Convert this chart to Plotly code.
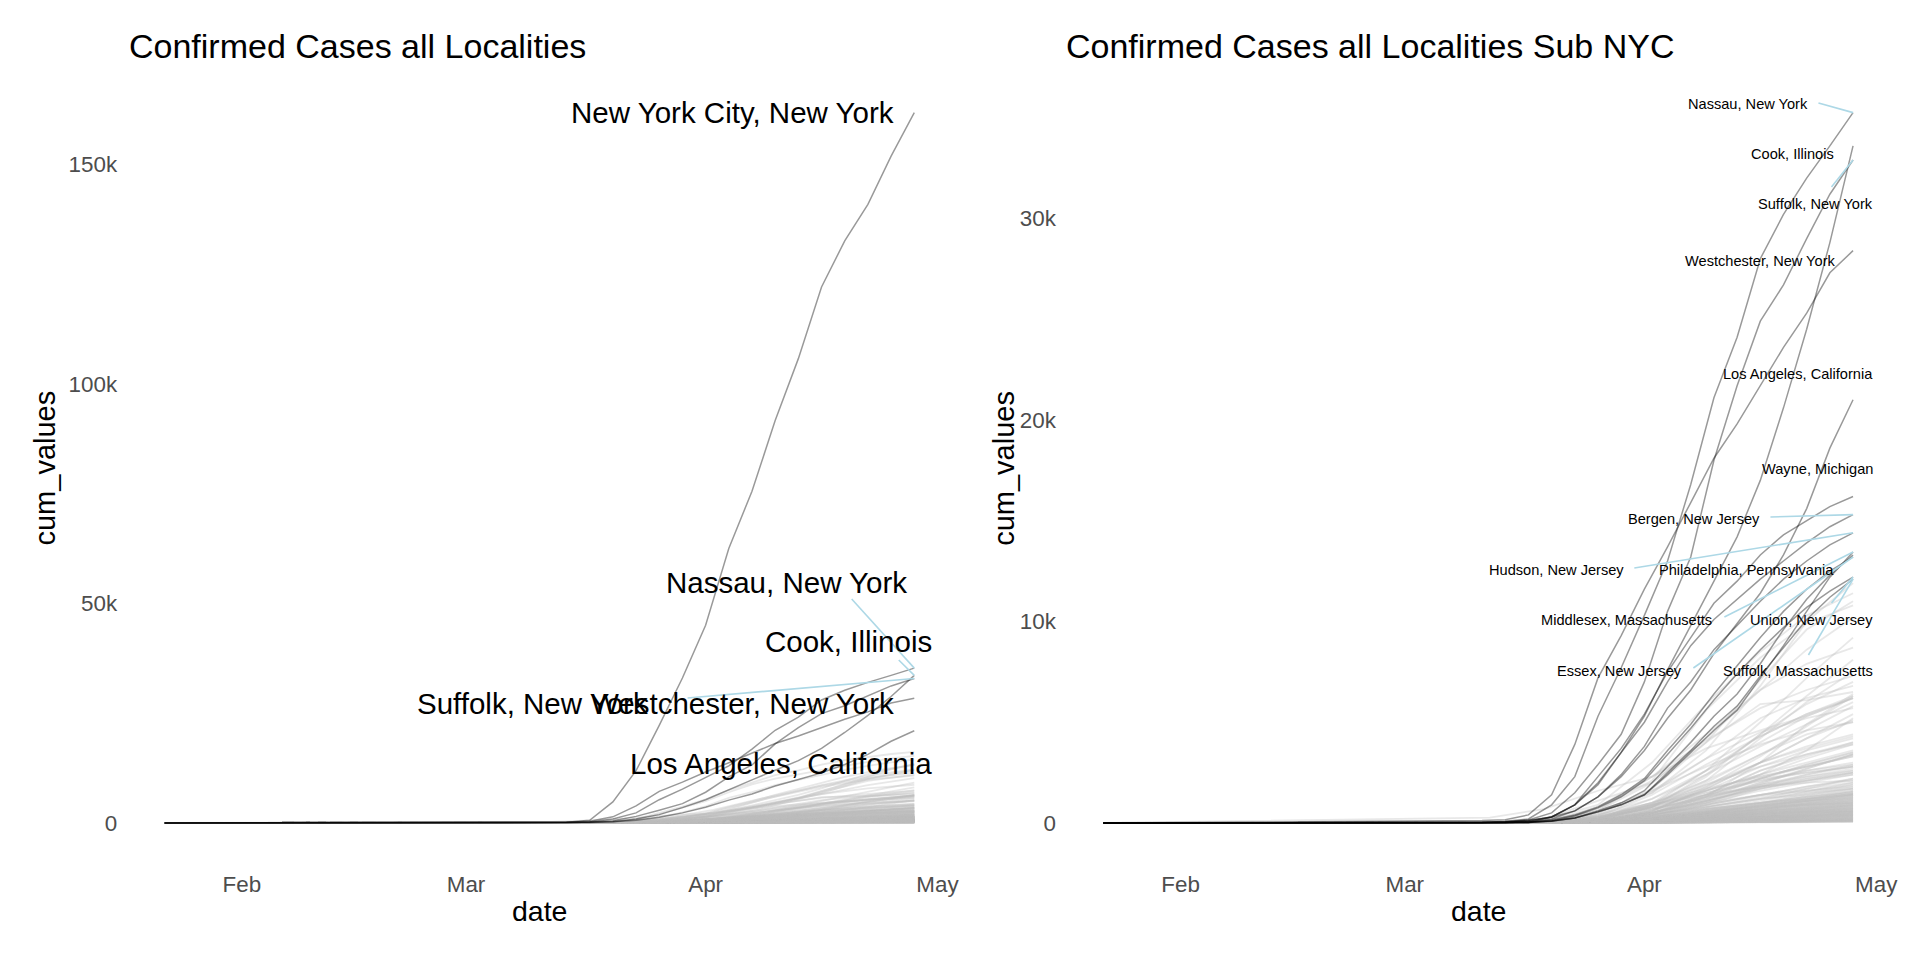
import plotly.graph_objects as go
import pandas as pd

# ---------------- data (values in thousands of cumulative cases) ----------------
start_date = "2020-01-22"
hl_dates = ["2020-03-08", "2020-03-11", "2020-03-14", "2020-03-17", "2020-03-20", "2020-03-23",
            "2020-03-26", "2020-03-29", "2020-04-01", "2020-04-04", "2020-04-07", "2020-04-10",
            "2020-04-13", "2020-04-16", "2020-04-19", "2020-04-22", "2020-04-25", "2020-04-28"]

new_york_city_ny = [0.0, 0.05, 0.15, 0.6, 4.8, 11.9, 22.2, 33.0, 45.0, 62.5, 75.5, 91.6, 105.7, 122.0, 132.5, 140.8, 151.8, 161.7]
nassau_ny = [0.0, 0.02, 0.08, 0.2, 0.9, 2.3, 5.3, 7.7, 10.3, 13.0, 16.8, 21.1, 24.1, 28.0, 30.2, 32.0, 33.6, 35.25]
cook_il = [0.0, 0.005, 0.03, 0.1, 0.3, 0.9, 1.9, 3.5, 5.3, 7.6, 9.8, 12.0, 14.2, 17.0, 20.6, 24.5, 28.8, 33.6]
suffolk_ny = [0.0, 0.01, 0.04, 0.15, 0.5, 1.5, 2.9, 4.4, 7.0, 10.5, 13.2, 18.0, 21.7, 24.9, 26.7, 29.0, 31.2, 32.9]
westchester_ny = [0.08, 0.12, 0.16, 0.4, 1.4, 3.9, 7.2, 9.3, 11.6, 13.7, 15.9, 18.1, 19.8, 21.7, 23.6, 25.3, 27.3, 28.4]
los_angeles_ca = [0.01, 0.03, 0.07, 0.14, 0.3, 0.6, 1.3, 2.3, 3.6, 5.2, 6.6, 8.4, 9.9, 11.4, 13.3, 15.6, 18.6, 21.0]
wayne_mi = [0.0, 0.0, 0.01, 0.03, 0.3, 0.9, 2.3, 3.7, 5.4, 7.5, 9.2, 10.9, 12.0, 13.3, 14.3, 15.0, 15.7, 16.2]
bergen_nj = [0.0, 0.02, 0.04, 0.1, 0.3, 0.9, 2.0, 3.5, 5.0, 7.0, 8.8, 10.1, 11.1, 12.1, 13.0, 13.9, 14.7, 15.3]
hudson_nj = [0.0, 0.0, 0.01, 0.05, 0.2, 0.6, 1.3, 2.4, 3.8, 5.7, 7.0, 8.6, 9.8, 11.0, 12.1, 13.0, 13.8, 14.4]
philadelphia_pa = [0.0, 0.0, 0.01, 0.02, 0.08, 0.25, 0.6, 1.0, 1.6, 2.8, 4.0, 5.3, 6.4, 7.9, 9.6, 11.1, 12.3, 13.3]
middlesex_ma = [0.0, 0.01, 0.03, 0.05, 0.1, 0.25, 0.55, 0.9, 1.4, 2.4, 3.5, 4.6, 5.6, 7.2, 8.8, 10.5, 12.2, 13.45]
union_nj = [0.0, 0.0, 0.01, 0.02, 0.1, 0.35, 0.75, 1.3, 2.1, 3.4, 4.7, 6.1, 7.4, 8.6, 9.7, 10.7, 11.5, 12.2]
essex_nj = [0.0, 0.0, 0.01, 0.03, 0.15, 0.4, 0.8, 1.4, 2.2, 3.6, 4.9, 6.4, 7.8, 9.2, 10.5, 11.6, 12.5, 13.2]
suffolk_ma = [0.0, 0.01, 0.02, 0.05, 0.1, 0.25, 0.55, 0.9, 1.4, 2.5, 3.6, 4.8, 5.8, 7.3, 8.7, 10.1, 11.2, 12.1]

# other localities (unlabelled), weekly-ish readings
bg_dates = ["2020-03-12", "2020-03-19", "2020-03-26", "2020-04-02", "2020-04-09", "2020-04-16", "2020-04-22", "2020-04-28"]
bg_high = [
    [0.0, 0.05, 0.35, 1.5, 3.6, 6.8, 10.0, 11.9],
    [0.02, 0.15, 0.9, 3.0, 5.9, 8.5, 10.3, 11.4],
    [0.0, 0.05, 0.4, 1.7, 4.0, 7.1, 9.6, 11.0],
    [0.0, 0.07, 0.7, 2.1, 5.6, 8.2, 9.9, 10.8],
    [0.01, 0.12, 0.6, 2.0, 4.2, 6.6, 8.6, 10.2],
    [0.0, 0.02, 0.2, 0.9, 2.6, 5.0, 7.2, 9.2],
    [0.0, 0.04, 0.6, 2.3, 4.4, 6.6, 7.9, 8.7],
    [0.0, 0.01, 0.15, 0.8, 2.4, 4.4, 6.3, 8.1],
    [0.0, 0.03, 0.2, 0.9, 2.1, 4.2, 6.0, 7.5],
    [0.0, 0.03, 0.8, 2.3, 4.1, 5.7, 6.6, 7.3],
    [0.0, 0.02, 0.2, 0.8, 2.3, 4.4, 5.9, 7.0],
    [0.0, 0.06, 0.6, 1.5, 3.2, 5.2, 6.2, 6.8],
    [0.01, 0.2, 1.1, 2.0, 4.0, 5.9, 6.1, 6.5],
    [0.0, 0.01, 0.1, 0.5, 1.3, 3.0, 4.9, 6.4],
    [0.0, 0.02, 0.25, 1.0, 2.6, 4.3, 5.4, 6.3],
    [0.0, 0.01, 0.1, 0.6, 1.8, 3.3, 4.8, 6.3],
    [0.27, 0.69, 1.6, 2.3, 3.7, 4.6, 5.3, 6.2],
    [0.0, 0.03, 0.3, 1.4, 2.9, 4.3, 5.4, 6.2],
    [0.0, 0.01, 0.2, 1.2, 2.6, 4.0, 5.3, 6.2],
    [0.0, 0.02, 0.4, 1.2, 2.4, 3.8, 4.9, 6.0],
]
bg_mid = [
    [0.0, 0.02, 0.2, 0.8, 2.0, 3.4, 4.6, 5.8],
    [0.0, 0.02, 0.5, 1.6, 3.2, 4.5, 5.2, 5.7],
    [0.0, 0.02, 0.15, 0.6, 1.7, 3.0, 4.2, 5.4],
    [0.0, 0.01, 0.1, 0.5, 1.3, 2.4, 3.6, 5.2],
    [0.0, 0.01, 0.15, 0.6, 1.7, 3.0, 4.2, 5.1],
    [0.0, 0.06, 0.5, 1.6, 2.8, 3.9, 4.6, 5.0],
    [0.0, 0.03, 0.25, 1.0, 2.1, 3.4, 4.4, 5.0],
    [0.0, 0.02, 0.2, 0.8, 1.8, 3.0, 3.8, 4.4],
    [0.0, 0.02, 0.2, 0.8, 1.9, 3.0, 3.7, 4.3],
    [0.0, 0.01, 0.1, 0.6, 1.6, 2.8, 3.6, 4.2],
    [0.0, 0.02, 0.15, 0.6, 1.4, 2.6, 3.3, 4.0],
    [0.0, 0.01, 0.1, 0.5, 1.4, 2.6, 3.4, 4.0],
    [0.0, 0.01, 0.2, 0.9, 1.6, 2.4, 3.2, 3.9],
    [0.0, 0.05, 0.4, 1.0, 1.9, 2.8, 3.4, 3.9],
    [0.0, 0.02, 0.2, 0.7, 1.6, 2.4, 3.0, 3.6],
    [0.0, 0.01, 0.1, 0.5, 1.3, 2.2, 2.9, 3.5],
    [0.0, 0.01, 0.1, 0.5, 1.2, 2.2, 2.9, 3.5],
    [0.0, 0.01, 0.1, 0.4, 1.0, 1.9, 2.7, 3.4],
    [0.0, 0.01, 0.1, 0.6, 1.4, 2.2, 2.8, 3.4],
    [0.0, 0.01, 0.1, 0.4, 1.1, 2.0, 2.7, 3.4],
    [0.0, 0.03, 0.3, 0.9, 1.6, 2.3, 2.8, 3.3],
    [0.0, 0.01, 0.3, 1.0, 1.7, 2.3, 2.8, 3.3],
    [0.0, 0.01, 0.1, 0.5, 1.2, 2.0, 2.6, 3.0],
    [0.0, 0.02, 0.2, 0.8, 1.4, 2.1, 2.6, 2.9],
    [0.0, 0.01, 0.1, 0.5, 1.1, 1.8, 2.4, 2.9],
    [0.0, 0.04, 0.3, 0.9, 1.5, 2.2, 2.5, 2.8],
    [0.0, 0.02, 0.2, 0.8, 1.5, 2.1, 2.5, 2.8],
    [0.0, 0.02, 0.3, 0.7, 1.3, 1.9, 2.4, 2.8],
    [0.0, 0.01, 0.1, 0.4, 1.0, 1.8, 2.3, 2.7],
    [0.0, 0.01, 0.05, 0.3, 0.9, 1.7, 2.2, 2.6],
]
bg_low = [
    [0.0, 0.02, 0.2, 0.7, 1.2, 1.9, 2.3, 2.6],
    [0.0, 0.01, 0.1, 0.5, 1.1, 1.8, 2.2, 2.5],
    [0.0, 0.01, 0.1, 0.5, 1.1, 1.7, 2.1, 2.5],
    [0.0, 0.01, 0.1, 0.5, 1.1, 1.7, 2.1, 2.5],
    [0.0, 0.01, 0.15, 0.5, 1.0, 1.6, 2.0, 2.4],
    [0.0, 0.02, 0.2, 0.7, 1.3, 1.8, 2.1, 2.4],
    [0.0, 0.01, 0.1, 0.4, 0.9, 1.4, 1.8, 2.2],
    [0.0, 0.04, 0.3, 0.9, 1.4, 1.8, 2.0, 2.1],
    [0.0, 0.01, 0.1, 0.4, 0.9, 1.4, 1.8, 2.1],
    [0.0, 0.01, 0.1, 0.4, 0.9, 1.4, 1.7, 2.0],
    [0.0, 0.01, 0.1, 0.4, 0.8, 1.3, 1.6, 1.9],
    [0.0, 0.01, 0.1, 0.5, 1.0, 1.4, 1.6, 1.8],
    [0.0, 0.01, 0.1, 0.4, 0.8, 1.2, 1.5, 1.7],
    [0.0, 0.01, 0.1, 0.4, 0.8, 1.2, 1.4, 1.7],
    [0.0, 0.01, 0.1, 0.3, 0.7, 1.0, 1.3, 1.6],
    [0.0, 0.01, 0.08, 0.3, 0.6, 1.0, 1.3, 1.5],
    [0.0, 0.01, 0.1, 0.3, 0.7, 1.0, 1.2, 1.4],
    [0.0, 0.01, 0.1, 0.4, 0.7, 1.0, 1.2, 1.4],
    [0.0, 0.01, 0.06, 0.2, 0.5, 0.9, 1.1, 1.3],
    [0.0, 0.01, 0.08, 0.3, 0.6, 0.9, 1.1, 1.2],
    [0.0, 0.01, 0.07, 0.2, 0.5, 0.8, 1.0, 1.1],
    [0.0, 0.01, 0.05, 0.2, 0.5, 0.8, 0.9, 1.0],
    [0.0, 0.01, 0.06, 0.2, 0.4, 0.7, 0.9, 1.0],
    [0.0, 0.0, 0.04, 0.2, 0.4, 0.6, 0.8, 0.9],
    [0.0, 0.01, 0.05, 0.2, 0.4, 0.6, 0.7, 0.8],
    [0.0, 0.0, 0.03, 0.15, 0.3, 0.5, 0.6, 0.7],
    [0.0, 0.0, 0.03, 0.1, 0.3, 0.45, 0.55, 0.6],
    [0.0, 0.0, 0.02, 0.1, 0.25, 0.4, 0.5, 0.55],
    [0.0, 0.0, 0.02, 0.1, 0.2, 0.3, 0.4, 0.45],
    [0.0, 0.0, 0.02, 0.08, 0.18, 0.28, 0.34, 0.4],
]
small_dates = ["2020-03-19", "2020-04-02", "2020-04-16", "2020-04-28"]
bg_small = [
    [0.01, 0.3, 0.9, 1.5], [0.01, 0.25, 0.85, 1.45], [0.02, 0.3, 0.8, 1.4], [0.01, 0.2, 0.8, 1.35],
    [0.0, 0.2, 0.75, 1.3], [0.01, 0.25, 0.7, 1.25], [0.0, 0.2, 0.7, 1.2], [0.01, 0.2, 0.65, 1.15],
    [0.0, 0.15, 0.65, 1.1], [0.01, 0.2, 0.6, 1.05], [0.0, 0.15, 0.55, 1.0], [0.0, 0.15, 0.55, 0.95],
    [0.01, 0.15, 0.5, 0.9], [0.0, 0.12, 0.5, 0.88], [0.0, 0.12, 0.45, 0.85], [0.0, 0.1, 0.45, 0.8],
    [0.0, 0.1, 0.42, 0.75], [0.0, 0.1, 0.4, 0.72], [0.0, 0.08, 0.38, 0.7], [0.0, 0.08, 0.35, 0.65],
    [0.0, 0.08, 0.33, 0.62], [0.0, 0.07, 0.3, 0.6], [0.0, 0.06, 0.3, 0.55], [0.0, 0.06, 0.28, 0.52],
    [0.0, 0.05, 0.25, 0.5], [0.0, 0.05, 0.24, 0.46], [0.0, 0.05, 0.22, 0.43], [0.0, 0.04, 0.2, 0.4],
    [0.0, 0.04, 0.19, 0.37], [0.0, 0.04, 0.17, 0.34], [0.0, 0.03, 0.16, 0.31], [0.0, 0.03, 0.14, 0.28],
    [0.0, 0.03, 0.12, 0.25], [0.0, 0.02, 0.11, 0.22], [0.0, 0.02, 0.1, 0.2], [0.0, 0.02, 0.08, 0.17],
    [0.0, 0.01, 0.07, 0.14], [0.0, 0.01, 0.06, 0.12], [0.0, 0.01, 0.05, 0.1], [0.0, 0.01, 0.04, 0.08],
]
bg_tiny = [
    [0.01, 0.35, 1.2, 2.2], [0.01, 0.3, 1.1, 2.0], [0.01, 0.3, 1.0, 1.9], [0.01, 0.28, 0.95, 1.8],
    [0.0, 0.25, 0.9, 1.7], [0.01, 0.22, 0.85, 1.6], [0.0, 0.22, 0.8, 1.55], [0.0, 0.2, 0.75, 1.45],
    [0.0, 0.18, 0.7, 1.38], [0.0, 0.17, 0.66, 1.3], [0.0, 0.16, 0.62, 1.22], [0.0, 0.15, 0.58, 1.15],
    [0.0, 0.14, 0.55, 1.08], [0.0, 0.13, 0.52, 1.02], [0.0, 0.12, 0.49, 0.96], [0.0, 0.11, 0.46, 0.9],
    [0.0, 0.1, 0.43, 0.84], [0.0, 0.1, 0.4, 0.78], [0.0, 0.09, 0.37, 0.73], [0.0, 0.08, 0.34, 0.68],
    [0.0, 0.08, 0.32, 0.63], [0.0, 0.07, 0.3, 0.58], [0.0, 0.07, 0.28, 0.54], [0.0, 0.06, 0.26, 0.5],
    [0.0, 0.06, 0.24, 0.46], [0.0, 0.05, 0.22, 0.42], [0.0, 0.05, 0.2, 0.38], [0.0, 0.04, 0.18, 0.35],
    [0.0, 0.04, 0.16, 0.32], [0.0, 0.03, 0.15, 0.29], [0.0, 0.03, 0.13, 0.26], [0.0, 0.03, 0.12, 0.23],
    [0.0, 0.02, 0.1, 0.2], [0.0, 0.02, 0.09, 0.18], [0.0, 0.02, 0.08, 0.15], [0.0, 0.01, 0.07, 0.13],
    [0.0, 0.01, 0.06, 0.11], [0.0, 0.01, 0.05, 0.09], [0.0, 0.01, 0.04, 0.07], [0.0, 0.0, 0.03, 0.05],
]

named = {
    "New York City, New York": new_york_city_ny,
    "Nassau, New York": nassau_ny,
    "Cook, Illinois": cook_il,
    "Suffolk, New York": suffolk_ny,
    "Westchester, New York": westchester_ny,
    "Los Angeles, California": los_angeles_ca,
    "Wayne, Michigan": wayne_mi,
    "Bergen, New Jersey": bergen_nj,
    "Hudson, New Jersey": hudson_nj,
    "Philadelphia, Pennsylvania": philadelphia_pa,
    "Middlesex, Massachusetts": middlesex_ma,
    "Union, New Jersey": union_nj,
    "Essex, New Jersey": essex_nj,
    "Suffolk, Massachusetts": suffolk_ma,
}
left_top = ["New York City, New York", "Nassau, New York", "Cook, Illinois", "Suffolk, New York",
            "Westchester, New York", "Los Angeles, California"]
right_top = [n for n in named if n != "New York City, New York"]

# ---------------- layout geometry (pixels of the 1920x960 page) ----------------
W, H = 1920, 960
SX = 1.005            # small horizontal compensation observed in the renderer
PX_L = (127, 951)
PX_R = (1065, 1889)
PY_B, PY_T = 858.5, 77.1

FONT = "Liberation Sans, Arial, sans-serif"
DARK = "rgba(0,0,0,0.4)"
LIGHT = "rgba(190,190,190,0.35)"
SEG = "#ADD8E6"

d0 = pd.Timestamp(start_date)
d1 = pd.Timestamp(hl_dates[-1])
pad = (d1 - d0) * 0.05
xr = [d0 - pad, d1 + pad]


def fx(px):
    return px * SX / W


def yrange(names):
    m = max(max(named[n]) for n in names) * 1000
    return [-0.05 * m, 1.05 * m]


yr_left = yrange(list(named))
yr_right = yrange(right_top)


def px2x(px, dom):
    t = (px - dom[0]) / (dom[1] - dom[0])
    return xr[0] + (xr[1] - xr[0]) * t


def py2y(py, yr):
    t = (PY_B - py) / (PY_B - PY_T)
    return yr[0] + (yr[1] - yr[0]) * t


fig = go.Figure()


def add_line(xs, ys, color, axis, width=1.5):
    fig.add_trace(go.Scatter(
        x=[start_date] + xs, y=[0] + [v * 1000 for v in ys], mode="lines",
        line=dict(color=color, width=width), hoverinfo="skip", showlegend=False,
        xaxis="x" if axis == 1 else "x2", yaxis="y" if axis == 1 else "y2"))


for axis, tops in ((1, left_top), (2, right_top)):
    for grp in (bg_tiny, bg_small):
        for row in grp:
            add_line(small_dates, row, LIGHT, axis, 1.8)
    for grp in (bg_low, bg_mid, bg_high):
        for row in grp:
            add_line(bg_dates, row, LIGHT, axis, 1.8)
    for n, vals in named.items():
        if axis == 2 and n == "New York City, New York":
            continue
        if n not in tops:
            add_line(hl_dates, vals, LIGHT, axis, 1.8)
    for n in tops:
        add_line(hl_dates, named[n], DARK, axis, 1.5)

# ---------------- labels (ggrepel-like placement) ----------------
# (name, right edge px, centre y px, connector start px or None)
left_labels = [
    ("New York City, New York", 893, 112.5, None),
    ("Nassau, New York", 906, 582, (851, 599)),
    ("Cook, Illinois", 931, 641, (898, 660)),
    ("Suffolk, New York", 647, 703, (687, 698)),
    ("Westchester, New York", 893, 703, None),
    ("Los Angeles, California", 931, 763, None),
]
right_labels = [
    ("Nassau, New York", 1807, 104, (1817, 103)),
    ("Cook, Illinois", 1833, 154, None),
    ("Suffolk, New York", 1871, 204, (1830, 187)),
    ("Westchester, New York", 1834, 261, None),
    ("Los Angeles, California", 1871, 374, None),
    ("Wayne, Michigan", 1871, 469, None),
    ("Bergen, New Jersey", 1759, 519, (1769, 517)),
    ("Hudson, New Jersey", 1623, 570, (1633, 568)),
    ("Philadelphia, Pennsylvania", 1833, 570, None),
    ("Middlesex, Massachusetts", 1711, 620, (1723, 617)),
    ("Union, New Jersey", 1871, 620, (1830, 603)),
    ("Essex, New Jersey", 1681, 671, (1692, 668)),
    ("Suffolk, Massachusetts", 1871, 671, (1807, 655)),
]

annotations = []
for labels, dom, yr, axis, fsize in ((left_labels, PX_L, yr_left, 1, 29.5),
                                      (right_labels, PX_R, yr_right, 2, 14.6)):
    for name, rx, cy, seg in labels:
        if seg is not None:
            fig.add_trace(go.Scatter(
                x=[px2x(seg[0], dom), hl_dates[-1]],
                y=[py2y(seg[1], yr), named[name][-1] * 1000],
                mode="lines", line=dict(color=SEG, width=1.6), hoverinfo="skip",
                showlegend=False, xaxis="x" if axis == 1 else "x2",
                yaxis="y" if axis == 1 else "y2"))
        annotations.append(dict(text=name, xref="paper", yref="paper", x=fx(rx + 2), y=1 - cy / H,
                                xanchor="right", yanchor="middle", showarrow=False,
                                font=dict(family=FONT, size=fsize, color="black")))

# titles and axis titles
for txt, x in (("Confirmed Cases all Localities", 129), ("Confirmed Cases all Localities Sub NYC", 1066)):
    annotations.append(dict(text=txt, xref="paper", yref="paper", x=fx(x - 2.5), y=1 - 46 / H,
                            xanchor="left", yanchor="middle", showarrow=False,
                            font=dict(family=FONT, size=34, color="black")))
for dom in (PX_L, PX_R):
    annotations.append(dict(text="date", xref="paper", yref="paper", x=fx((dom[0] + dom[1]) / 2),
                            y=1 - 911 / H, xanchor="center", yanchor="middle", showarrow=False,
                            font=dict(family=FONT, size=28.5, color="black")))
for x in (44.5, 1003):
    annotations.append(dict(text="cum_values", xref="paper", yref="paper", x=fx(x),
                            y=1 - 468 / H, xanchor="center", yanchor="middle", showarrow=False,
                            textangle=-90, font=dict(family=FONT, size=29, color="black")))

xtick = dict(tickvals=["2020-02-01", "2020-03-01", "2020-04-01", "2020-05-01"],
             ticktext=["Feb", "Mar", "Apr", "May"])
common_x = dict(type="date", range=xr, showgrid=False, zeroline=False, showline=False, ticks="",
                tickfont=dict(family=FONT, size=22.4, color="#4D4D4D"), ticklabelstandoff=10,
                **xtick)
common_y = dict(showgrid=False, zeroline=False, showline=False, ticks="",
                tickfont=dict(family=FONT, size=22.4, color="#4D4D4D"), ticklabelstandoff=9)
ydom = [1 - PY_B / H, 1 - PY_T / H]

fig.update_layout(
    width=W, height=H, margin=dict(l=0, r=0, t=0, b=0),
    paper_bgcolor="white", plot_bgcolor="white", showlegend=False, hovermode=False,
    xaxis=dict(domain=[fx(PX_L[0]), fx(PX_L[1])], anchor="y", **common_x),
    xaxis2=dict(domain=[fx(PX_R[0]), fx(PX_R[1])], anchor="y2", **common_x),
    yaxis=dict(domain=ydom, anchor="x", range=yr_left, tickvals=[0, 50000, 100000, 150000],
               ticktext=["0", "50k", "100k", "150k"], **common_y),
    yaxis2=dict(domain=ydom, anchor="x2", range=yr_right, tickvals=[0, 10000, 20000, 30000],
                ticktext=["0", "10k", "20k", "30k"], **common_y),
    annotations=annotations,
)

fig.write_html("out.html")
